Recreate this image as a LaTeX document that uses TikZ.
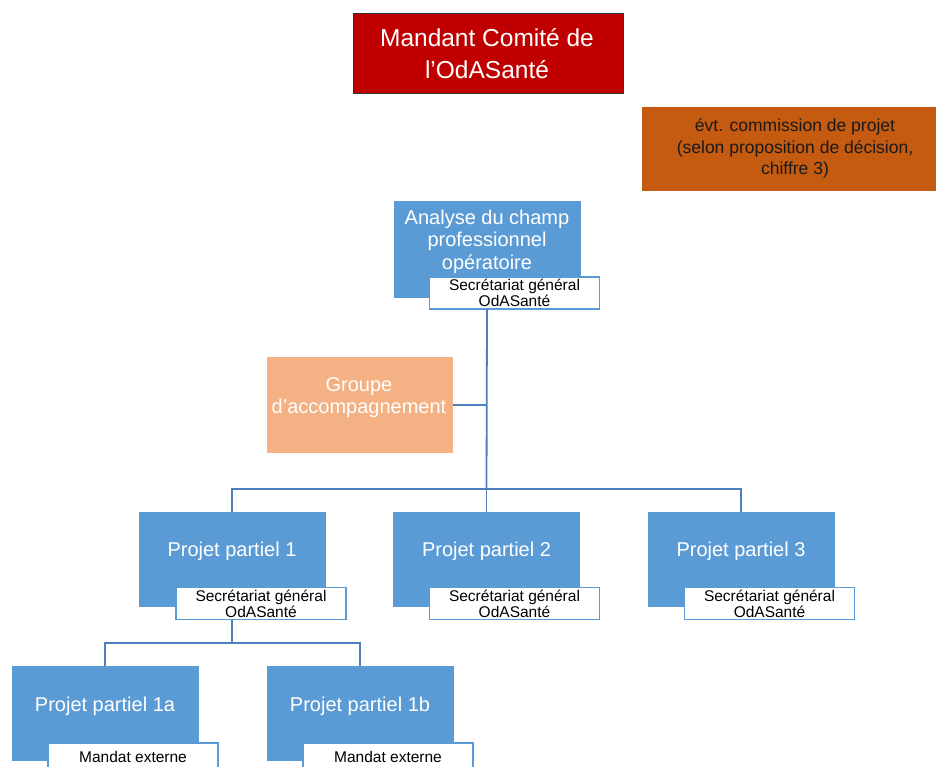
\documentclass[tikz,border=0pt]{standalone}
\usepackage{fontspec}
\setmainfont{Liberation Sans}
\definecolor{cblue}{HTML}{5B9BD5}
\definecolor{cline}{HTML}{4E80BE}
\definecolor{cred}{HTML}{C00000}
\definecolor{corange}{HTML}{C55A11}
\definecolor{clight}{HTML}{F4B183}
\definecolor{ctext}{HTML}{1A1A1A}
\tikzset{
  box/.style={rectangle, inner sep=0pt, outer sep=0pt},
  bluebox/.style={box, fill=cblue, minimum width=187pt, minimum height=95pt},
  bluetext/.style={inner sep=0pt, text=white, align=center, font=\fontsize{20}{22.5}\selectfont},
  subbox/.style={box, fill=white, draw=cblue, line width=1.4pt, minimum width=170pt, minimum height=32pt, align=center, text=black, font=\fontsize{15.5}{16}\selectfont},
  conn/.style={draw=cline, line width=1.8pt},
}
\begin{document}
\begin{tikzpicture}[x=1pt, y=-1pt]
\useasboundingbox (0,0) rectangle (936,767);
\clip (0,0) rectangle (936,767);
\fill[white] (0,0) rectangle (936,767);

% top red box
\node[box, fill=cred, draw=black!80, line width=0.8pt, minimum width=270pt, minimum height=80pt] (mandant) at (488,53.5) {};
\node[inner sep=0pt, text=white, align=center, font=\fontsize{24.5}{32}\selectfont] (mandantt) at (487,53.5) {Mandant Comité de\\l’OdASanté};

% orange commission box
\node[box, fill=corange, minimum width=306pt, minimum height=84pt] (comm) at (795,149) {};
\node[inner sep=0pt, text=ctext, align=center, font=\fontsize{17.5}{21.5}\selectfont] (commt) at (795,148.5) {évt. commission de projet\\(selon proposition de décision,\\chiffre 3)};

% analyse box
\node[bluebox, minimum height=97pt] (an) at (487,249.5) {};
\node[bluetext] (ant) at (487,241.5) {Analyse du champ\\professionnel\\opératoire};
\node[subbox] (ansub) at (514.5,293) {Secrétariat général\\OdASanté};

% groupe d'accompagnement
\node[box, fill=clight, minimum width=186pt, minimum height=96pt] (grp) at (360,405) {};
\node[bluetext] (grpt) at (359,397.5) {Groupe\\d’accompagnement};

% projets partiels
\node[bluebox] (pp1) at (232,559.5) {};
\node[bluetext] (pp1t) at (232,551) {Projet partiel 1};
\node[subbox] (pp1sub) at (261,603.5) {Secrétariat général\\OdASanté};

\node[bluebox] (pp2) at (486.5,559.5) {};
\node[bluetext] (pp2t) at (486.5,551) {Projet partiel 2};
\node[subbox] (pp2sub) at (514.5,603.5) {Secrétariat général\\OdASanté};

\node[bluebox] (pp3) at (741,559.5) {};
\node[bluetext] (pp3t) at (741,551) {Projet partiel 3};
\node[subbox] (pp3sub) at (769.5,603.5) {Secrétariat général\\OdASanté};

\node[bluebox] (pp1a) at (105,713.5) {};
\node[bluetext] (pp1at) at (105,706) {Projet partiel 1a};
\node[subbox, minimum height=28pt] (pp1asub) at (133,757) {Mandat externe};

\node[bluebox] (pp1b) at (360,713.5) {};
\node[bluetext] (pp1bt) at (360,706) {Projet partiel 1b};
\node[subbox, minimum height=28pt] (pp1bsub) at (388,757) {Mandat externe};

% connectors
\coordinate (b1) at (486.5,489);
\coordinate (b2) at (232,643);
\draw[conn] (an.center |- ansub.south) -- (b1);
\draw[conn] (grp.east) -- (grp.east -| b1);
\draw[conn] (b1) -| (pp1.north);
\draw[conn] (b1) -- (pp2.north);
\draw[conn] (b1) -| (pp3.north);
\draw[conn] (pp1.center |- pp1sub.south) -- (b2);
\draw[conn] (b2) -| (pp1a.north);
\draw[conn] (b2) -| (pp1b.north);
\end{tikzpicture}
\end{document}
